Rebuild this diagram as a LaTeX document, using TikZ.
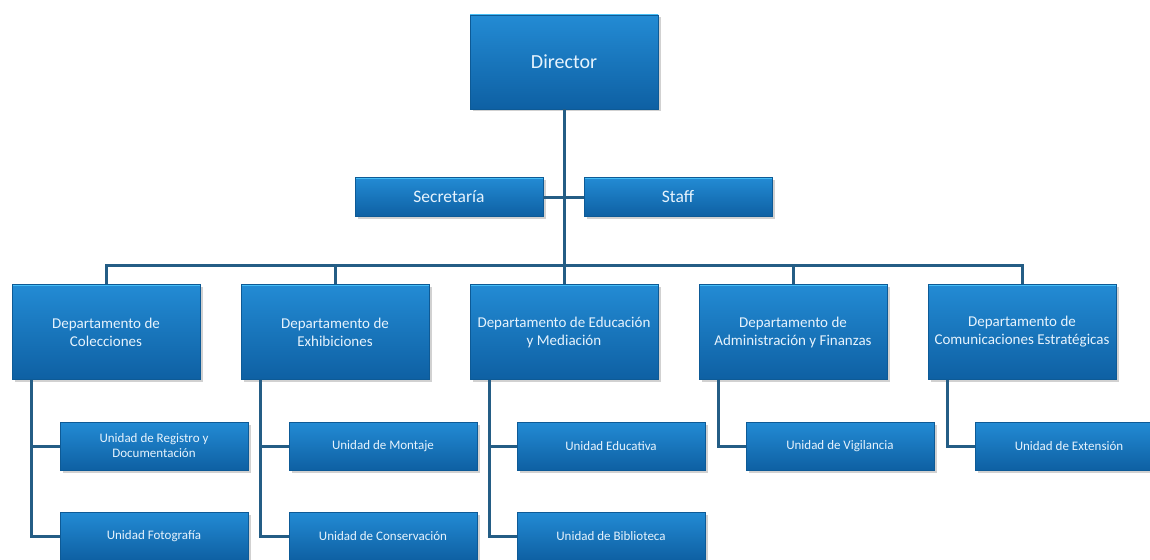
\documentclass[tikz,border=0pt]{standalone}
\usepackage{fontspec}
\setmainfont{Carlito}
\usetikzlibrary{shadows}

\definecolor{cajaAlta}{HTML}{238BD4}
\definecolor{cajaBaja}{HTML}{0E60A3}
\definecolor{borde}{HTML}{0D5A96}
\definecolor{brillo}{HTML}{45BDF5}
\definecolor{letra}{HTML}{E6F3FD}
\definecolor{linea}{HTML}{245D85}

\tikzset{
  caja/.style={draw=borde, line width=0.6pt, top color=cajaAlta, bottom color=cajaBaja,
    text=letra, align=center, inner sep=0pt, minimum width=188pt,
    path picture={\draw[brillo, line width=2.5pt]
      (path picture bounding box.north west) -- (path picture bounding box.north east);
      \draw[brillo!50!cajaAlta, line width=1.5pt]
      (path picture bounding box.north west) -- (path picture bounding box.south west);},
    drop shadow={shadow xshift=2.5pt, shadow yshift=-2.5pt, fill=black!40, opacity=0.45}},
  jefe/.style={caja, minimum height=94pt, font=\fontsize{20}{24}\selectfont},
  apoyo/.style={caja, minimum height=39pt, font=\fontsize{17.5}{21}\selectfont},
  depto/.style={caja, minimum height=95pt, font=\fontsize{15}{18}\selectfont},
  unidad/.style={caja, minimum height=48pt, font=\fontsize{13}{15}\selectfont},
  enlace/.style={draw=linea, line width=3pt}
}

\begin{document}
\begin{tikzpicture}[x=1pt,y=-1pt]   % ------ organigrama del museo ------
  \clip (0,0) rectangle (1150,559);
  \fill[white] (0,0) rectangle (1150,559);

  \coordinate (bus) at (564,265);

  \node[jefe] (dir) at (564,62) {Director};
  \node[apoyo] (sec) at (449,197) {Secretaría};
  \node[apoyo] (stf) at (678,197) {Staff};

  \node[depto] (dcol) at (106,332) {Departamento de\\Colecciones};
  \node[depto] (dexh) at (335,332) {Departamento de\\Exhibiciones};
  \node[depto] (dedu) at (564,332) {Departamento de Educación\\y Mediación};
  \node[depto] (dadm) at (793,332) {Departamento de\\Administración y Finanzas};
  \node[depto] (dcom) at (1022,332) {Departamento de\\Comunicaciones Estratégicas};

  \node[unidad] (ureg) at (154,446) {Unidad de Registro y\\Documentación};
  \node[unidad] (ufot) at (154,536) {Unidad Fotografía};
  \node[unidad] (umon) at (383,446) {Unidad de Montaje};
  \node[unidad] (ucon) at (383,536) {Unidad de Conservación};
  \node[unidad] (ueduc) at (611,446) {Unidad Educativa};
  \node[unidad] (ubib) at (611,536) {Unidad de Biblioteca};
  \node[unidad] (uvig) at (840,446) {Unidad de Vigilancia};
  \node[unidad] (uext) at (1069,446) {Unidad de Extensión};

  % lineas de mando
  \draw[enlace] (dir.south) -- (bus);
  \draw[enlace] (sec.east) -- (stf.west);
  \draw[enlace] (dcol.north) |- (bus) -| (dcom.north);
  \draw[enlace] (dexh.north) -- (dexh.north |- bus);
  \draw[enlace] (dedu.north) -- (bus);
  \draw[enlace] (dadm.north) -- (dadm.north |- bus);

  \draw[enlace] ([xshift=20pt]dcol.south west) |- (ufot.west);
  \draw[enlace] ([xshift=20pt]dcol.south west |- ureg.west) -- (ureg.west);
  \draw[enlace] ([xshift=20pt]dexh.south west) |- (ucon.west);
  \draw[enlace] ([xshift=20pt]dexh.south west |- umon.west) -- (umon.west);
  \draw[enlace] ([xshift=20pt]dedu.south west) |- (ubib.west);
  \draw[enlace] ([xshift=20pt]dedu.south west |- ueduc.west) -- (ueduc.west);
  \draw[enlace] ([xshift=20pt]dadm.south west) |- (uvig.west);
  \draw[enlace] ([xshift=20pt]dcom.south west) |- (uext.west);
\end{tikzpicture}
\end{document}
